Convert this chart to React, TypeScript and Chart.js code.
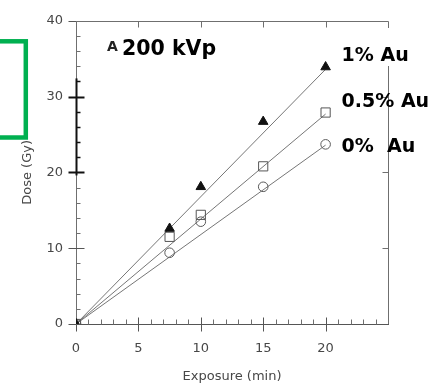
import { useEffect, useRef } from "react";
import { Chart, registerables } from "chart.js";

Chart.register(...registerables);

// Exposure times (min) and measured dose (Gy) for each gold concentration
const exposureMin = [0, 7.5, 10, 15, 20];
const doseAu1 = [0, 12.6, 18.1, 26.7, 33.9];
const doseAu05 = [0, 11.5, 14.4, 20.8, 27.9];
const doseAu0 = [0, 9.4, 13.5, 18.1, 23.7];

// Straight lines through the origin, dose at 0 and 20 min
const fitExposure = [0, 20];
const fitAu1 = [0, 33.6];
const fitAu05 = [0, 27.7];
const fitAu0 = [0, 23.6];

const seriesLabels = ["1% Au", "0.5% Au", "0%  Au"];
const panelLetter = "A";
const panelTitle = "200 kVp";

const xTicks = [0, 5, 10, 15, 20];
const yTicks = [0, 10, 20, 30, 40];

const FONT = "'DejaVu Sans', sans-serif";
const AXIS = "#6f6f6f";
const TEXT = "#474747";

const pts = (xs: number[], ys: number[]) => xs.map((x, i) => ({ x, y: ys[i] }));

const fitLine = (ys: number[]) => ({
  data: pts(fitExposure, ys),
  showLine: true,
  pointRadius: 0,
  borderColor: "#767676",
  borderWidth: 1,
  order: 2,
});

// Frame: axes, crossing major ticks and inner minor ticks
const framePlugin = {
  id: "frame",
  beforeDatasetsDraw(chart: any) {
    const { ctx, chartArea, scales } = chart;
    const { left, right, top, bottom } = chartArea;
    const xs = scales.x;
    const ys = scales.y;
    const L = Math.round(left) + 0.5;
    const R = Math.round(right) + 0.5;
    const T = Math.round(top) + 0.5;
    const B = Math.round(bottom) + 0.5;
    const seg = (x1: number, y1: number, x2: number, y2: number, color = AXIS, w = 1) => {
      ctx.strokeStyle = color;
      ctx.lineWidth = w;
      ctx.beginPath();
      ctx.moveTo(x1, y1);
      ctx.lineTo(x2, y2);
      ctx.stroke();
    };
    ctx.save();
    // frame
    seg(L, T, R, T);
    seg(R, T, R, B);
    seg(L, B, R + 0.5, B, "#555");
    seg(L, T, L, B);
    // darker stretch of the dose axis
    const darkLo = 19.6;
    const darkHi = 32.4;
    seg(L, ys.getPixelForValue(darkHi), L, ys.getPixelForValue(darkLo), "#111", 2);

    // x ticks
    for (let v = 1; v < 25; v++) {
      const px = Math.round(xs.getPixelForValue(v)) + 0.5;
      if (v % 5 === 0) {
        seg(px, B - 7, px, B + 7, "#555");
        seg(px, T, px, T + 6);
      } else {
        seg(px, B, px, B - 5);
      }
    }
    seg(L, B, L, B + 7, "#555");

    // y ticks
    for (let v = 2; v <= 40; v += 2) {
      const py = Math.round(ys.getPixelForValue(v)) + 0.5;
      const dark = v >= darkLo && v <= darkHi;
      const col = dark ? "#111" : AXIS;
      if (v % 10 === 0) {
        seg(L - 8, py, v === 40 ? L : L + 8, py, dark ? "#111" : "#555", dark ? 2 : 1);
        if (v < 40) seg(R - 6, py, R, py);
      } else {
        seg(L, py, L + 4, py, col, dark ? 1.5 : 1);
      }
    }
    seg(L - 8, B, L, B, "#555");

    // outline box at the left edge
    ctx.strokeStyle = "#00b050";
    ctx.lineWidth = 4.5;
    ctx.strokeRect(-20, 41.3, 45.8, 96.2);
    ctx.restore();
  },
  afterDraw(chart: any) {
    const { ctx, chartArea, scales } = chart;
    const xs = scales.x;
    const labelX = xs.getPixelForValue(20) + 16;
    ctx.save();
    ctx.textBaseline = "alphabetic";
    ctx.textAlign = "left";
    // panel heading
    ctx.fillStyle = "#222";
    ctx.font = `bold 14px ${FONT}`;
    ctx.fillText(panelLetter, chartArea.left + 31, 51);
    ctx.fillStyle = "#000";
    ctx.font = `bold 20.5px ${FONT}`;
    ctx.fillText(panelTitle, chartArea.left + 46, 55);
    // series labels
    ctx.font = `bold 19px ${FONT}`;
    const baselines = [61, 107, 152];
    seriesLabels.forEach((t, i) => {
      if (i === 0) {
        const w = ctx.measureText(t).width;
        ctx.fillStyle = "#fff";
        ctx.fillRect(labelX - 2, baselines[i] - 33, w + 4, 38);
      }
      ctx.fillStyle = "#000";
      ctx.fillText(t, labelX, baselines[i]);
    });
    ctx.restore();
  },
};

export default function App() {
  const ref = useRef<HTMLCanvasElement>(null);

  useEffect(() => {
    if (!ref.current) return;
    const chart = new Chart(ref.current, {
      type: "scatter",
      data: {
        datasets: [
          { label: seriesLabels[0] + " line", ...fitLine(fitAu1) },
          { label: seriesLabels[1] + " line", ...fitLine(fitAu05) },
          { label: seriesLabels[2] + " line", ...fitLine(fitAu0) },
          {
            label: seriesLabels[0],
            data: pts(exposureMin, doseAu1),
            pointStyle: "triangle",
            pointRadius: 5.5,
            backgroundColor: "#111",
            borderColor: "#111",
            borderWidth: 1,
            order: 1,
          },
          {
            label: seriesLabels[1],
            data: pts(exposureMin, doseAu05),
            pointStyle: "rect",
            pointRadius: 6.5,
            backgroundColor: "rgba(255,255,255,0)",
            borderColor: "#555",
            borderWidth: 1,
            order: 1,
          },
          {
            label: seriesLabels[2],
            data: pts(exposureMin, doseAu0),
            pointStyle: "circle",
            pointRadius: 4.8,
            backgroundColor: "rgba(255,255,255,0)",
            borderColor: "#5a5a5a",
            borderWidth: 1,
            order: 1,
          },
        ],
      },
      options: {
        animation: false,
        responsive: false,
        devicePixelRatio: 1,
        layout: { padding: { left: 0, top: 13, right: 56, bottom: 0 } },
        plugins: { legend: { display: false }, tooltip: { enabled: false } },
        scales: {
          x: {
            type: "linear",
            min: 0,
            max: 25,
            afterBuildTicks: (s: any) => {
              s.ticks = xTicks.map((value) => ({ value }));
            },
            afterFit: (s: any) => {
              s.height = 65;
            },
            grid: { display: false, drawTicks: false },
            border: { display: false },
            ticks: {
              padding: 16.5,
              color: TEXT,
              font: { family: FONT, size: 13 },
              maxRotation: 0,
            },
            title: {
              display: true,
              text: "Exposure (min)",
              color: TEXT,
              font: { family: FONT, size: 13 },
              padding: { top: 0, bottom: 4.7 },
            },
          },
          y: {
            type: "linear",
            min: 0,
            max: 40,
            afterBuildTicks: (s: any) => {
              s.ticks = yTicks.map((value) => ({ value }));
            },
            afterFit: (s: any) => {
              s.width = 76;
            },
            grid: { display: false, drawTicks: false },
            border: { display: false },
            ticks: {
              padding: 13,
              color: TEXT,
              font: { family: FONT, size: 13 },
            },
            title: {
              display: true,
              text: "Dose (Gy)",
              color: TEXT,
              font: { family: FONT, size: 13 },
              padding: { top: 20, bottom: 0 },
            },
          },
        },
      },
      plugins: [framePlugin],
    } as any);
    return () => chart.destroy();
  }, []);

  return (
    <div style={{ position: "fixed", left: 0, top: 0, width: 444, height: 389, background: "#fff" }}>
      <canvas ref={ref} width={444} height={389} style={{ display: "block", width: 444, height: 389 }} />
    </div>
  );
}
